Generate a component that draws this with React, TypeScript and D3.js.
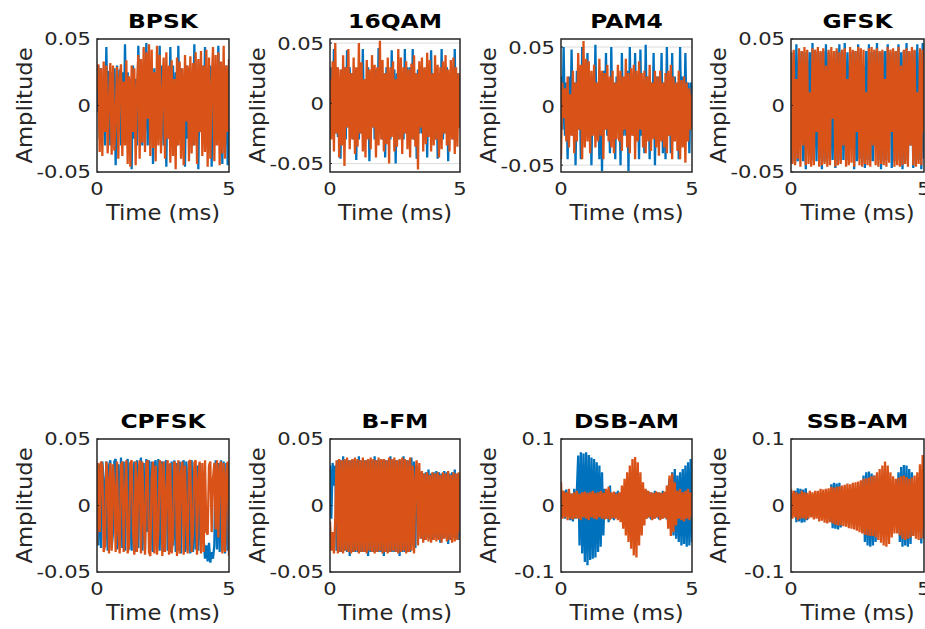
import React from 'react';
import * as d3 from 'd3';

// ---------- data ----------
const titles = ['BPSK', '16QAM', 'PAM4', 'GFSK', 'CPFSK', 'B-FM', 'DSB-AM', 'SSB-AM'];
const xTicks = [0, 5];
const timeSpan = [0, 5];
const yTicksSmall = [-0.05, 0, 0.05];
const yTicksLarge = [-0.1, 0, 0.1];
const yLimits = [
  [-0.05, 0.05], [-0.057, 0.0534], [-0.0558, 0.0568], [-0.05, 0.05],
  [-0.05, 0.05], [-0.05, 0.05], [-0.1, 0.1], [-0.1, 0.1],
];

const bpskRe = [-.005,.03,-.025,.028,-.02,.018,-.03,.044,-.018,.026,-.03,.025,-.01,.028,-.045,.03,-.02,.027,-.03,.025,
-.028,.046,-.015,.025,-.03,.02,-.048,.03,-.025,.02,-.03,.045,-.02,.025,-.03,.028,-.02,.047,-.03,.025,
-.02,.03,-.044,.028,-.03,.025,-.02,.045,-.028,.03,-.03,.02,-.046,.028,-.025,.044,-.02,.03,-.028,.025,
-.03,.045,-.02,.028,-.03,.02,-.046,.03,-.025,.028,-.03,.02,-.03,.046,-.025,.028,-.048,.025,-.02,.03,
-.028,.044,-.03,.025,-.02,.03,-.046,.025,-.03,.028,-.025,.045,-.02,.03,-.044,.025,-.03,.03,-.045,.02];
const bpskIm = [.012,.031,-.035,.028,-.038,.033,-.02,.03,-.036,.005,.032,-.037,.03,-.034,-.01,.029,-.04,.02,.031,-.038,
.018,-.03,.034,-.044,.022,-.046,.03,-.02,.028,-.045,.015,.038,-.04,.035,-.028,.044,-.035,.04,-.01,.046,
-.038,.042,-.032,.025,-.042,.045,-.03,.038,-.036,.01,.036,-.04,.04,-.025,.03,-.043,.034,-.038,.02,-.048,
.036,-.03,.033,-.04,.028,-.045,.038,-.012,.03,-.042,.037,-.036,.032,-.03,.04,-.044,.035,-.02,.041,-.038,
.03,-.035,.042,-.046,.036,-.04,.015,.044,-.042,.038,-.03,.04,-.045,.033,-.036,.045,-.04,.03,-.02,.035];

const qam16Re = [-.01,.03,-.02,.045,-.025,.03,-.028,.02,-.046,.028,-.025,.03,-.03,.044,-.02,.03,-.028,.025,-.03,.028,
-.047,.025,-.03,.028,-.025,.045,-.03,.02,-.028,.03,-.048,.025,-.02,.03,-.03,.028,-.025,.046,-.025,.028,
-.03,.025,-.045,.03,-.028,.025,-.03,.044,-.02,.028,-.05,.025,-.03,.03,-.028,.025,-.03,.045,-.025,.03,
-.028,.03,-.025,.045,-.03,.025,-.046,.028,-.025,.03,-.025,.028,-.03,.025,-.045,.03,-.025,.044,-.028,.025,
-.03,.028,-.046,.025,-.025,.045,-.03,.028,-.025,.03,-.048,.025,-.025,.03,-.03,.045,-.028,.025,-.02,.01];
const qam16Im = [.02,-.03,.035,-.04,.05,-.025,.03,-.045,.028,-.035,.04,-.052,.03,-.02,.045,-.038,.025,-.03,.038,-.042,
.03,-.036,.05,-.025,.034,-.04,.02,-.045,.036,-.03,.028,-.038,.04,-.02,.032,-.045,.03,-.035,.052,-.03,
.036,-.04,.025,-.034,.038,-.05,.03,-.028,.035,-.04,.02,-.036,.045,-.03,.038,-.042,.03,-.025,.035,-.038,
.028,-.045,.033,-.03,.04,-.036,.025,-.055,.035,-.02,.038,-.04,.03,-.034,.042,-.028,.036,-.04,.025,-.035,
.04,-.03,.032,-.045,.03,-.038,.035,-.025,.04,-.035,.028,-.04,.036,-.03,.038,-.042,.03,-.036,.025,-.02];

const pam4Re = [.025,-.02,.05,-.025,.02,-.045,.025,-.02,.048,-.025,.02,-.05,.03,-.02,.025,-.045,.05,-.02,.02,-.025,
.045,-.025,.02,-.05,.025,-.02,.052,-.025,.02,-.045,.025,-.055,.03,-.02,.045,-.025,.02,-.04,.05,-.025,
.02,-.045,.025,-.02,.02,-.05,.045,-.025,.02,-.025,.03,-.055,.05,-.02,.025,-.025,.045,-.02,.02,-.045,
.048,-.025,.02,-.04,.052,-.025,.025,-.045,.02,-.025,.045,-.05,.025,-.02,.025,-.02,.045,-.04,.02,-.045,
.05,-.025,.02,-.04,.045,-.025,.025,-.02,.02,-.045,.05,-.02,.025,-.025,.045,-.02,.02,-.04,.02,-.01];
const pam4Im = [-.045,.02,-.01,.015,-.03,.025,-.035,.01,-.025,.03,-.04,.02,-.03,.045,-.02,.035,-.045,.055,-.035,.04,
-.03,.038,-.04,.03,-.025,.035,-.035,.02,-.03,.04,-.025,.03,-.045,.028,-.02,.035,-.03,.025,-.035,.03,
-.04,.02,-.028,.035,-.03,.03,-.038,.025,-.02,.04,-.035,.028,-.04,.032,-.025,.035,-.045,.03,-.03,.038,
-.02,.028,-.035,.03,-.04,.025,-.03,.035,-.038,.02,-.028,.03,-.035,.025,-.042,.03,-.03,.02,-.035,.028,
-.04,.03,-.025,.035,-.045,.025,-.03,.02,-.038,.03,-.045,.022,-.035,.025,-.048,.02,-.03,.015,-.02,.01];

const gfskRe = [.02,-.042,.04,-.043,.046,-.042,.04,-.02,.041,-.042,.04,-.048,.041,-.03,.04,-.042,.047,-.041,.04,-.042,
.041,-.04,.04,-.048,.041,-.042,.046,-.04,.04,-.042,.03,-.041,.04,-.047,.041,-.04,.046,-.042,.04,-.041,
.047,-.042,.04,-.041,.041,-.02,.04,-.048,.041,-.042,.046,-.04,.04,-.042,.03,-.047,.041,-.041,.046,-.042,
.04,-.042,.041,-.03,.047,-.041,.04,-.048,.04,-.042,.041,-.041,.046,-.02,.04,-.047,.041,-.042,.04,-.041,
.046,-.04,.04,-.048,.041,-.042,.047,-.041,.04,-.03,.04,-.047,.041,-.042,.046,-.041,.04,-.048,.047,-.04];
const gfskIm = [.04,-.044,.042,-.045,.02,-.04,.043,-.046,.041,-.03,.044,-.045,.042,-.044,.01,-.046,.043,-.045,.042,-.02,
.044,-.046,.041,-.045,.043,-.044,.03,-.046,.042,-.045,.044,-.01,.041,-.046,.043,-.045,.04,-.044,.042,-.03,
.043,-.046,.02,-.045,.044,-.043,.042,-.046,.041,-.02,.044,-.045,.043,-.046,.042,-.044,.01,-.045,.043,-.046,
.044,-.03,.042,-.045,.043,-.046,.041,-.044,.042,-.045,.02,-.046,.044,-.043,.042,-.02,.043,-.046,.041,-.045,
.044,-.046,.03,-.045,.042,-.044,.043,-.046,.041,-.03,.044,-.045,.042,-.046,.01,-.044,.043,-.045,.042,-.02];

const cpfskRe = [.03,-.03,.031,-.032,.033,.02,-.031,.033,-.034,.03,.034,-.032,-.02,.033,.035,-.033,.031,-.03,.036,-.032,
.033,-.034,.03,.035,-.033,.032,-.034,.01,.033,-.035,.034,-.032,.03,.036,-.034,.032,-.033,.035,-.02,.034,
-.034,.033,-.035,.031,.034,-.033,.035,-.034,.03,.033,-.035,.032,.034,-.034,.031,-.035,.033,-.03,.034,-.035,
.032,-.034,.033,-.036,.03,.034,-.035,.033,-.034,.031,-.036,.034,-.035,.02,-.033,.03,-.034,.032,-.03,.02,
-.025,-.04,-.03,-.042,-.028,-.043,-.035,-.04,-.03,.034,-.033,.032,-.035,.034,-.034,.033,-.036,.032,-.034,.03];
const cpfskIm = [-.03,.032,-.02,.033,.03,-.035,-.03,.033,.02,-.036,.032,-.034,.031,.015,-.035,.033,-.02,-.036,.03,.033,
-.035,.01,.034,-.036,-.03,.032,.034,-.02,-.037,.033,-.035,.02,.034,-.036,.033,-.01,-.037,.032,.034,-.035,
-.038,.02,.033,-.036,.03,-.037,-.02,.034,.03,-.038,.033,-.035,.01,.034,-.037,.032,-.036,-.025,.033,.03,
-.038,.034,-.036,.025,.033,-.037,.03,-.01,-.036,.033,.034,-.035,-.02,.032,.034,-.037,.02,.033,-.036,.032,
-.035,.034,-.02,-.022,.03,.033,-.02,.02,.032,-.018,.034,-.024,.03,.033,-.036,.032,-.035,.025,.033,-.038];

const bfmRe = [.03,-.01,.032,.015,.03,-.034,.034,-.035,.034,-.035,.037,-.034,.034,-.035,.034,-.038,.034,-.035,.034,-.035,
.034,-.035,.037,-.035,.034,-.035,.034,-.035,.034,-.038,.034,-.035,.034,-.035,.037,-.035,.034,-.035,.034,-.035,
.034,-.038,.034,-.035,.034,-.035,.037,-.035,.034,-.035,.034,-.035,.034,-.038,.034,-.035,.037,-.035,.034,-.035,
.034,-.035,.036,-.03,.033,-.032,.03,.01,-.02,.025,-.025,.024,-.026,.025,-.024,.027,-.025,.024,-.026,.025,
-.024,.026,-.025,.025,-.028,.024,-.025,.026,-.024,.025,-.029,.024,-.026,.025,-.024,.027,-.025,.024,-.026,.02];
const bfmIm = [-.012,-.034,-.02,-.036,-.01,.034,-.036,.035,-.035,.034,-.036,.035,-.034,.036,-.035,.034,-.036,.035,-.035,.036,
-.034,.035,-.036,.034,-.035,.036,-.035,.034,-.036,.035,-.034,.036,-.035,.035,-.036,.034,-.035,.036,-.034,.035,
-.036,.035,-.035,.034,-.036,.036,-.035,.035,-.034,.036,-.035,.034,-.036,.035,-.035,.036,-.034,.035,-.036,.034,
-.035,.036,-.034,.03,-.036,.02,.034,-.03,.032,-.025,.026,-.028,.024,-.026,.025,-.027,.023,-.028,.025,-.026,
.024,-.027,.025,-.026,.023,-.028,.025,-.025,.024,-.027,.026,-.026,.023,-.028,.025,-.027,.024,-.026,.025,-.02];

const dsbRe = [.02,-.018,.022,-.02,.024,-.015,.02,-.022,.018,-.024,.025,-.02,.022,
.075,-.06,.08,-.072,.078,-.085,.08,-.09,.076,-.082,.072,-.08,.07,-.078,.065,-.07,.06,-.062,.05,-.045,
.025,-.02,.022,-.025,.03,-.02,.018,-.022,.02,-.018,.022,-.02,.018,-.021,.02,-.019,.022,-.02,.018,-.02,
.021,-.018,.02,-.022,.019,-.02,.021,-.018,.02,-.022,.019,-.02,.022,-.018,.02,-.021,.019,-.02,.022,-.018,
.02,-.021,.019,-.02,.022,-.018,.02,-.021,.019,
.04,-.035,.05,-.045,.055,-.05,.045,-.055,.05,-.06,.055,-.058,.06,-.062,.065,-.06,.07,-.055];
const dsbIm = [.035,-.02,.022,-.018,.02,-.022,.025,-.02,.018,-.021,.02,-.019,.022,-.02,.018,-.022,.02,-.018,.021,-.02,
.019,-.022,.02,-.018,.022,-.02,.019,-.021,.02,-.018,.022,-.02,.019,-.021,.025,-.02,.028,-.022,.02,-.019,
.021,-.02,.018,-.022,
.02,-.025,.03,-.035,.04,-.045,.05,-.055,.06,-.065,.07,-.075,.073,-.078,.065,-.06,.05,-.045,.035,-.03,
.025,-.02,.022,-.018,.02,-.022,.019,-.02,.021,-.018,.02,-.022,.019,-.02,.021,-.019,
.03,-.035,.045,-.046,.048,-.04,.035,-.03,
.022,-.02,.025,-.022,.02,-.024,.022,-.02,.025,-.022,.02,-.018];

const ssbRe = [.015,-.014,.016,.022,-.025,.026,-.024,.025,-.026,.024,-.025,.026,-.022,.016,-.015,.014,-.016,.015,-.014,.016,
-.015,.016,-.014,.015,-.016,.014,-.015,.016,.02,-.025,.032,-.034,.034,-.035,.033,-.036,.034,-.033,.02,-.016,
.018,-.02,.019,-.022,.02,-.021,.022,-.02,.021,-.022,.02,-.022,.03,-.04,.045,-.055,.05,-.06,.051,-.062,
.048,-.06,.045,-.055,.04,-.03,.025,-.028,.03,-.032,.028,-.03,.032,-.03,.03,-.033,.032,-.03,.031,-.035,
.05,-.055,.058,-.062,.061,-.06,.06,-.062,.055,-.058,.05,-.045,.03,-.035,.03,-.04,.035,-.057,.04,-.05];
const ssbIm = [.025,-.02,.022,-.018,.02,-.022,.018,-.02,.022,-.019,.02,-.021,.019,-.02,.022,-.018,.02,-.021,.022,-.02,
.022,-.024,.025,-.023,.024,-.026,.025,-.027,.026,-.025,.028,-.027,.027,-.029,.028,-.03,.029,-.03,.03,-.031,
.031,-.032,.033,-.034,.032,-.035,.034,-.036,.035,-.038,.036,-.04,.038,-.042,.04,-.044,.041,-.045,.042,-.046,
.044,-.046,.045,-.048,.05,-.052,.055,-.056,.06,-.06,.066,-.062,.06,-.058,.05,-.048,.044,-.042,.04,-.042,
.042,-.045,.044,-.05,.045,-.052,.043,-.05,.04,-.048,.042,-.046,.045,-.05,.05,-.052,.062,-.05,.076,-.048];

const realParts = [bpskRe, qam16Re, pam4Re, gfskRe, cpfskRe, bfmRe, dsbRe, ssbRe];
const imagParts = [bpskIm, qam16Im, pam4Im, gfskIm, cpfskIm, bfmIm, dsbIm, ssbIm];

// ---------- layout ----------
const W = 925;
const H = 629;
const colLeft = [97, 330, 561, 791];
const colRight = [229, 460, 692, 924];
const rowTop = [39, 439];
const rowBottom = [172, 572];
const BLUE = '#0072BD';
const ORANGE = '#D95319';
const AXIS = '#262626';
const FONT = 'DejaVu Sans, sans-serif';

function fmt(v: number) {
  return String(v);
}

function SText(props: any) {
  const { x, y, sx = 1, rot = 0, anchor = 'middle', size, weight = 'normal', fill = AXIS, dy, children } = props;
  return (
    <text
      transform={`translate(${x},${y}) rotate(${rot}) scale(${sx},1)`}
      textAnchor={anchor}
      fontSize={size}
      fontWeight={weight}
      fill={fill}
      dy={dy}
      fontFamily={FONT}
    >
      {children}
    </text>
  );
}

function Panel({ idx }: { idx: number }) {
  const col = idx % 4;
  const row = Math.floor(idx / 4);
  const x0 = colLeft[col], x1 = colRight[col];
  const y0 = rowTop[row], y1 = rowBottom[row];
  const x = d3.scaleLinear().domain(timeSpan).range([x0, x1]);
  const y = d3.scaleLinear().domain(yLimits[idx]).range([y1, y0]);
  const yTicks = idx >= 6 ? yTicksLarge : yTicksSmall;
  const mk = (arr: number[]) =>
    d3.line<number>()
      .x((_, i) => x((i / (arr.length - 1)) * timeSpan[1]))
      .y((d) => y(d))(arr) || '';
  const clipId = `clip${idx}`;
  const cx = (x0 + x1) / 2;
  const cy = (y0 + y1) / 2;
  return (
    <g>
      <defs>
        <clipPath id={clipId}>
          <rect x={x0} y={y0} width={x1 - x0} height={y1 - y0} />
        </clipPath>
      </defs>
      {yTicks.map((t) => (
        <line key={'gy' + t} x1={x0} x2={x1} y1={y(t)} y2={y(t)} stroke="#dcdcdc" strokeWidth={1} />
      ))}
      <g clipPath={`url(#${clipId})`} fill="none" strokeWidth={2.3} strokeLinejoin="bevel">
        <path d={mk(realParts[idx])} stroke={BLUE} />
        <path d={mk(imagParts[idx])} stroke={ORANGE} />
      </g>
      <rect x={x0} y={y0} width={x1 - x0} height={y1 - y0} fill="none" stroke={AXIS} strokeWidth={1.5} />
      {yTicks.map((t) => (
        <g key={'ty' + t}>
          <line x1={x0} x2={x0 + 2} y1={y(t)} y2={y(t)} stroke={AXIS} strokeWidth={1} />
          <SText x={x0 - 6} y={y(t)} dy="0.36em" anchor="end" size={18} sx={1.17}>{fmt(t)}</SText>
        </g>
      ))}
      {xTicks.map((t) => (
        <SText key={'tx' + t} x={x(t)} y={y1 + 23} size={18} sx={1.17}>{fmt(t)}</SText>
      ))}
      <SText x={cx} y={y1 + 47.5} size={21} sx={1.08}>Time (ms)</SText>
      <SText x={x0 - 65} y={cy} rot={-90} size={21} sx={1.08}>Amplitude</SText>
      <SText x={cx} y={y0 - 10.7} size={20} sx={1.17} weight="bold" fill="#000">{titles[idx]}</SText>
    </g>
  );
}

export default function App() {
  return (
    <svg
      width={W}
      height={H}
      viewBox={`0 0 ${W} ${H}`}
      style={{ position: 'absolute', left: 0, top: 0, background: '#fff' }}
    >
      <rect x={0} y={0} width={W} height={H} fill="#fff" />
      {titles.map((_, i) => (
        <Panel key={i} idx={i} />
      ))}
    </svg>
  );
}
